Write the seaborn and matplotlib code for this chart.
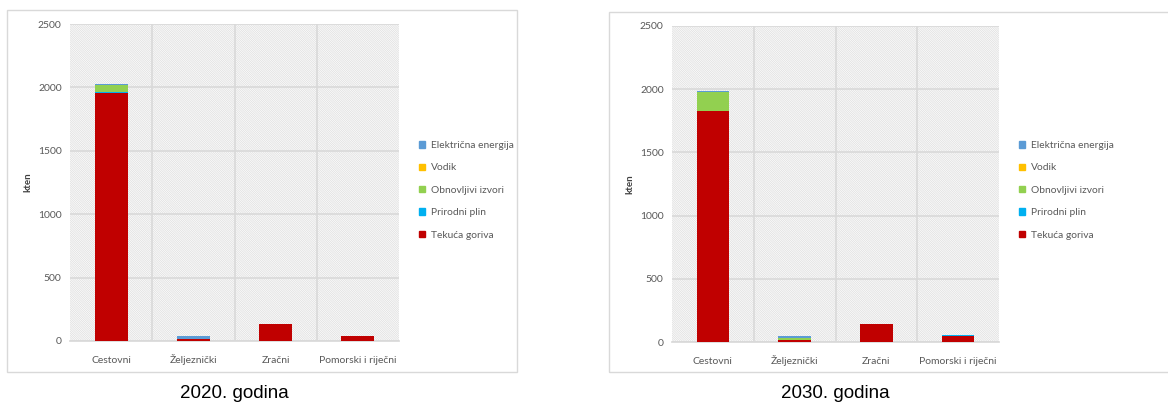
import seaborn as sns
import matplotlib.pyplot as plt
import matplotlib.patches as mpatches
import pandas as pd
import numpy as np

categories = ["Cestovni", "Željeznički", "Zračni", "Pomorski i riječni"]
series = ["Tekuća goriva", "Prirodni plin", "Obnovljivi izvori", "Vodik", "Električna energija"]
colors = ["#C00000", "#00B0F0", "#92D050", "#FFC000", "#5B9BD5"]

# kten, rows follow `series`, columns follow `categories`
values_2020 = [
    [1956, 15, 132, 38],
    [8, 0, 0, 0],
    [55, 0, 0, 0],
    [0, 0, 0, 0],
    [8, 25, 0, 2],
]
values_2030 = [
    [1830, 15, 142, 50],
    [0, 3, 0, 5],
    [146, 15, 0, 0],
    [3, 2, 0, 0],
    [4, 15, 0, 0],
]
yticks = [0, 500, 1000, 1500, 2000, 2500]
titles = ["2020. godina", "2030. godina"]

sns.set_theme(style="white")
plt.rcParams['font.family'] = ['Lato', 'DejaVu Sans']
plt.rcParams['hatch.linewidth'] = 0.35

fig = plt.figure(figsize=(11.68, 4.05), dpi=100)

# outer chart frames
for (x0, y0, x1, y1) in [(7, 10, 517, 372), (609, 12, 1175, 372)]:
    fig.patches.append(mpatches.Rectangle((x0 / 1168, 1 - y1 / 405), (x1 - x0) / 1168, (y1 - y0) / 405,
                                          transform=fig.transFigure, fill=False, edgecolor="#D9D9D9", lw=1))

axes_pos = [[70 / 1168, 1 - 341 / 405, 329 / 1168, 317 / 405],
            [672 / 1168, 1 - 342 / 405, 327 / 1168, 316 / 405]]
legend_x = [417 / 1168, 1017 / 1168]

for k, vals in enumerate([values_2020, values_2030]):
    ax = fig.add_axes(axes_pos[k])
    df = pd.DataFrame(np.array(vals).T, columns=series)
    df["cat"] = categories
    cum = df[series].cumsum(axis=1)

    # hatched background
    ax.add_patch(mpatches.Rectangle((0, 0), 1, 1, transform=ax.transAxes, facecolor="white",
                                    edgecolor="#D2D2D2", hatch="\\" * 18, lw=0, zorder=0))
    for y in yticks:
        ax.axhline(y, color="#D9D9D9", lw=1.2, zorder=1)
    for xv in [0.5, 1.5, 2.5]:
        ax.axvline(xv, color="#D9D9D9", lw=1.2, zorder=1)

    for i in reversed(range(len(series))):
        sns.barplot(x=df["cat"], y=cum[series[i]], color=colors[i], width=0.4,
                    saturation=1, ax=ax, zorder=3, linewidth=0)

    ax.set_ylim(0, 2500)
    ax.set_xlim(-0.5, 3.5)
    ax.set_yticks(yticks)
    ax.set_xlabel("")
    ax.set_ylabel("kten", fontsize=7, fontweight="bold", color="#404040", labelpad=4)
    ax.tick_params(axis="y", labelsize=7.5, colors="#595959", length=0, pad=6)
    ax.tick_params(axis="x", labelsize=7.5, colors="#595959", length=0, pad=16)
    for lab in ax.get_xticklabels():
        lab.set_verticalalignment("baseline")
    for s in ax.spines.values():
        s.set_visible(False)
    ax.spines["bottom"].set_visible(True)
    ax.spines["bottom"].set_color("#D9D9D9")

    handles = [mpatches.Patch(color=colors[i], label=series[i]) for i in reversed(range(len(series)))]
    fig.legend(handles=handles, loc="center left", bbox_to_anchor=(legend_x[k] - 0.006, 0.53),
               frameon=False, fontsize=7.4, handlelength=0.6, handleheight=0.6,
               handletextpad=0.5, labelspacing=1.3, labelcolor="#595959")

    cx = axes_pos[k][0] + axes_pos[k][2] / 2
    fig.text(cx, 1 - 394 / 405, titles[k], ha="center", va="center", fontsize=13.5,
             family=["Liberation Sans", "DejaVu Sans"], color="black")

fig.savefig("out.png", dpi=100)
